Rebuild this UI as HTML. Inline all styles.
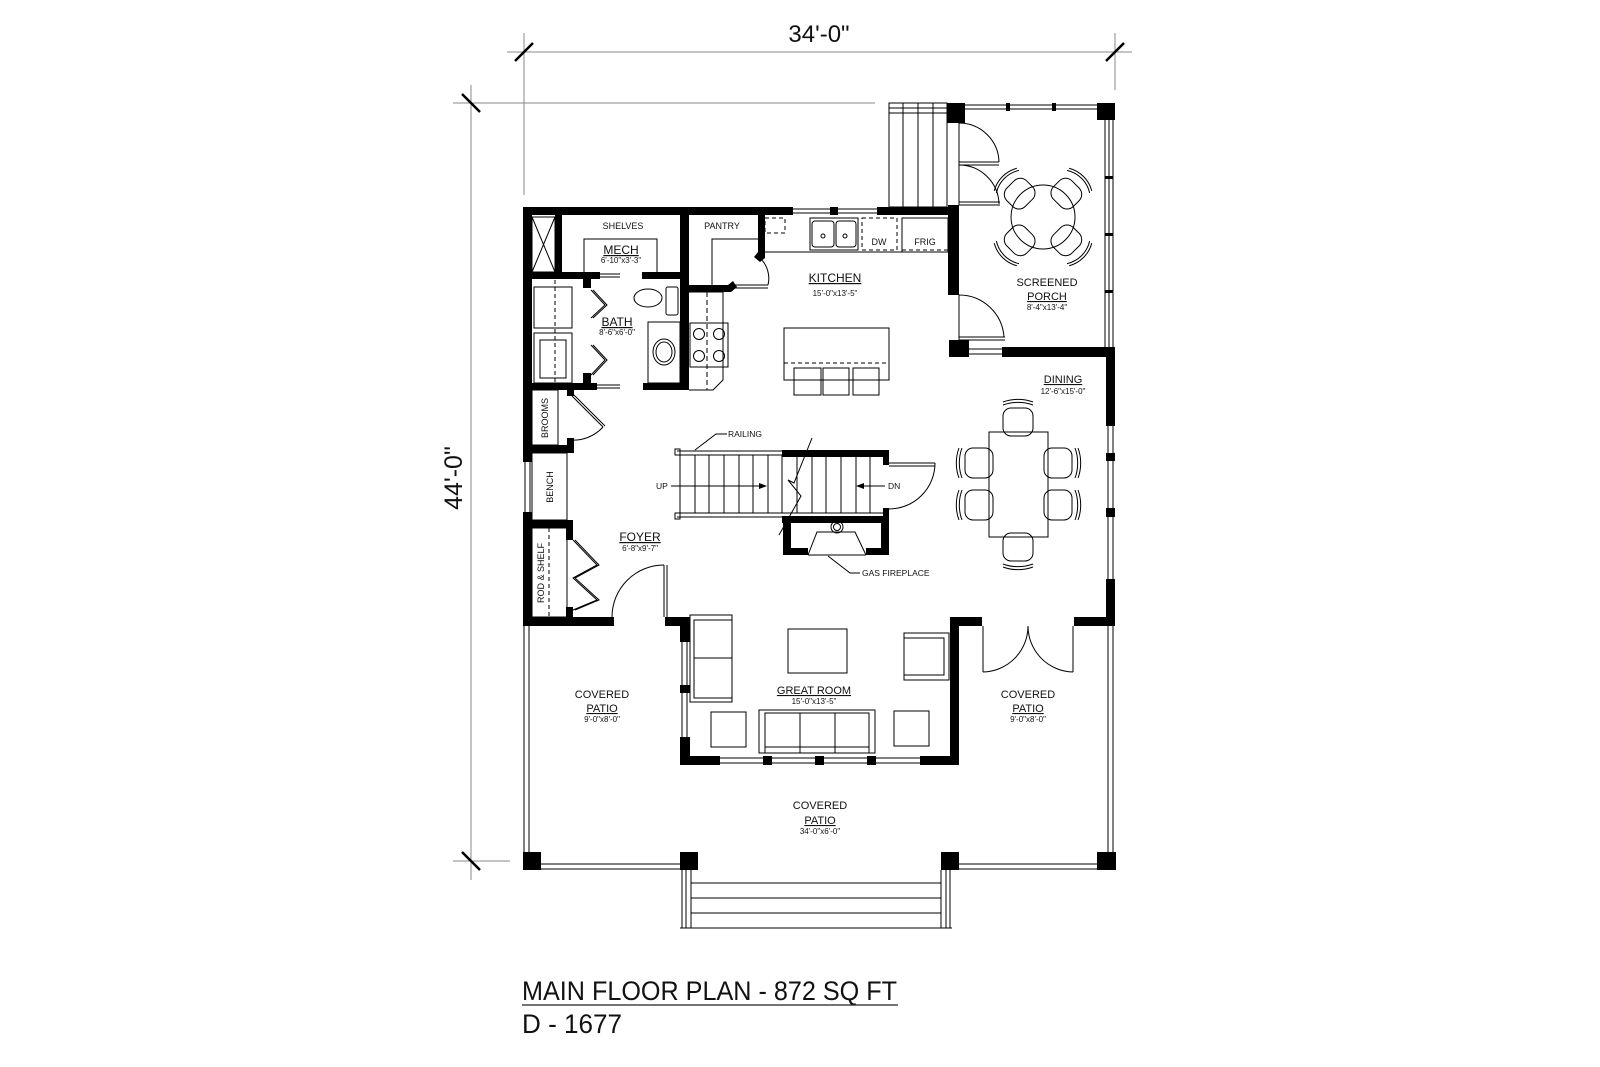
<!DOCTYPE html>
<html><head><meta charset="utf-8"><style>
html,body{margin:0;padding:0;background:#fff;}
svg{display:block;}
text{font-family:"Liberation Sans",sans-serif;fill:#111;}
</style></head><body>
<svg width="1600" height="1067" viewBox="0 0 1600 1067" xmlns="http://www.w3.org/2000/svg">
<rect width="1600" height="1067" fill="#fff"/>
<g stroke="#888" stroke-width="1" fill="none">
<line x1="507" y1="52" x2="1132" y2="52"/>
<line x1="524" y1="33" x2="524" y2="195"/>
<line x1="1115" y1="33" x2="1115" y2="90"/>
<line x1="453" y1="103" x2="875" y2="103"/>
<line x1="453" y1="861" x2="510" y2="861"/>
<line x1="471" y1="85" x2="471" y2="880"/>
</g>
<g stroke="#000" stroke-width="2.5">
<line x1="515" y1="61" x2="533" y2="43"/><line x1="1106" y1="61" x2="1124" y2="43"/>
<line x1="462" y1="94" x2="480" y2="112"/><line x1="462" y1="852" x2="480" y2="870"/>
</g>
<text x="819" y="42" font-size="24" text-anchor="middle">34'-0"</text>
<text transform="translate(462,478) rotate(-90)" font-size="25" text-anchor="middle">44'-0"</text>

<g fill="none" stroke="#000" stroke-width="1">
<line x1="793" y1="209" x2="877" y2="209"/><line x1="793" y1="213" x2="877" y2="213"/>
<line x1="525" y1="462" x2="525" y2="512"/><line x1="530" y1="462" x2="530" y2="512"/>
<line x1="682" y1="642" x2="682" y2="737"/><line x1="687" y1="642" x2="687" y2="737"/>
<line x1="690" y1="758" x2="920" y2="758"/><line x1="690" y1="763" x2="920" y2="763"/>
<line x1="1108" y1="426" x2="1108" y2="579"/><line x1="1113" y1="426" x2="1113" y2="579"/>
<line x1="969" y1="349" x2="1002" y2="349"/><line x1="969" y1="354" x2="1002" y2="354"/>
<line x1="965" y1="105" x2="1098" y2="105"/><line x1="965" y1="109" x2="1098" y2="109"/>
<line x1="1105" y1="120" x2="1105" y2="347"/><line x1="1109" y1="120" x2="1109" y2="347"/><line x1="1113" y1="120" x2="1113" y2="347"/>
<line x1="524" y1="626" x2="524" y2="852"/><line x1="529" y1="626" x2="529" y2="852"/>
<line x1="1108" y1="626" x2="1108" y2="852"/><line x1="1113" y1="626" x2="1113" y2="852"/>
<line x1="541" y1="864" x2="680" y2="864"/><line x1="541" y1="869" x2="680" y2="869"/>
<line x1="959" y1="864" x2="1097" y2="864"/><line x1="959" y1="869" x2="1097" y2="869"/>
<line x1="682" y1="870" x2="682" y2="928"/><line x1="686" y1="870" x2="686" y2="928"/><line x1="691" y1="870" x2="691" y2="928"/>
<line x1="941" y1="870" x2="941" y2="928"/><line x1="946" y1="870" x2="946" y2="928"/><line x1="950" y1="870" x2="950" y2="928"/>
<line x1="691" y1="883" x2="941" y2="883"/><line x1="691" y1="898" x2="941" y2="898"/><line x1="691" y1="913" x2="941" y2="913"/><line x1="680" y1="928" x2="952" y2="928"/>
<rect x="889" y="103" width="58" height="104"/>
<line x1="889" y1="108" x2="947" y2="108"/><line x1="889" y1="113" x2="947" y2="113"/>
<line x1="903" y1="103" x2="903" y2="207"/><line x1="918" y1="103" x2="918" y2="207"/><line x1="933" y1="103" x2="933" y2="207"/>
<rect x="532" y="217" width="23" height="55"/><line x1="532" y1="217" x2="555" y2="272"/><line x1="555" y1="217" x2="532" y2="272"/>
<polyline points="584,272 584,239 657,239 657,272"/>
<line x1="600" y1="274" x2="620" y2="274"/><line x1="600" y1="277" x2="620" y2="277"/>
<line x1="597" y1="385" x2="620" y2="385"/><line x1="597" y1="388" x2="620" y2="388"/>
<rect x="534" y="287" width="38" height="41"/><rect x="534" y="333" width="38" height="50"/><rect x="540" y="340" width="26" height="38"/>
<line x1="555" y1="280" x2="555" y2="383" stroke-dasharray="4,3"/>
<polyline points="591,290 605,305 591,318"/><polyline points="593,290 607,305 593,318"/>
<polyline points="591,345 605,360 591,375"/><polyline points="593,345 607,360 593,375"/>
<ellipse cx="648" cy="298" rx="14" ry="9"/><rect x="666" y="287" width="12" height="28" rx="2"/>
<rect x="648" y="322" width="32" height="61"/><ellipse cx="664" cy="352" rx="11" ry="13"/><ellipse cx="664" cy="352" rx="8" ry="10"/>
<polyline points="712,285 712,239 758,239"/>
<line x1="733" y1="285" x2="768" y2="285"/><line x1="733" y1="288" x2="768" y2="288"/>
<path d="M768,285 A28,28 0 0 0 760,258"/>
<rect x="765" y="218" width="20" height="15" stroke-dasharray="4,3"/>
<line x1="765" y1="252" x2="902" y2="252"/>
<rect x="810" y="218" width="48" height="32"/><rect x="812" y="221" width="22" height="26" rx="3"/><rect x="836" y="221" width="20" height="26" rx="3"/>
<circle cx="823" cy="236" r="2"/><circle cx="845" cy="236" r="2"/>
<rect x="862" y="218" width="35" height="32" stroke-dasharray="4,3"/>
<rect x="902" y="218" width="46" height="34"/><line x1="902" y1="250" x2="948" y2="250" stroke-dasharray="4,3"/>
<polyline points="689,292 723,292 723,380 713,390 689,390"/>
<line x1="707" y1="292" x2="707" y2="390" stroke-dasharray="5,3"/>
<rect x="690" y="323" width="38" height="44"/>
<circle cx="699" cy="334" r="5.5"/><circle cx="719" cy="334" r="5.5"/><circle cx="699" cy="356" r="5.5"/><circle cx="719" cy="356" r="5.5"/>
<rect x="784" y="328" width="105" height="52"/><line x1="784" y1="363" x2="889" y2="363" stroke-dasharray="4,3"/>
<rect x="794" y="368" width="27" height="27"/><rect x="823" y="368" width="26" height="27"/><rect x="853" y="368" width="26" height="27"/>
<line x1="794" y1="380" x2="821" y2="380"/><line x1="823" y1="380" x2="849" y2="380"/><line x1="853" y1="380" x2="879" y2="380"/>
<rect x="532" y="390" width="26" height="55"/>
<line x1="572" y1="396" x2="603" y2="427"/><line x1="574" y1="395" x2="605" y2="426"/><path d="M603,427 A40,40 0 0 1 570,440"/>
<rect x="532" y="453" width="35" height="67"/>
<rect x="532" y="528" width="35" height="89"/><line x1="549" y1="528" x2="549" y2="617" stroke-dasharray="4,3"/>
<polyline points="573,540 597,565 573,578 597,600 573,610"/><polyline points="575,540 599,565 575,578 599,600 575,610"/>
<line x1="664" y1="565" x2="664" y2="617"/><line x1="667" y1="565" x2="667" y2="617"/>
<path d="M664,565 A52,52 0 0 0 612,617"/>
<line x1="677" y1="451" x2="782" y2="451"/><line x1="677" y1="455" x2="782" y2="455"/>
<line x1="677" y1="513" x2="782" y2="513"/><line x1="677" y1="517" x2="782" y2="517"/>
<rect x="675" y="449" width="5" height="6"/><rect x="675" y="513" width="5" height="6"/>
<g>
<line x1="680" y1="455" x2="680" y2="513"/><line x1="695" y1="455" x2="695" y2="513"/><line x1="709" y1="455" x2="709" y2="513"/><line x1="724" y1="455" x2="724" y2="513"/><line x1="739" y1="455" x2="739" y2="513"/><line x1="753" y1="455" x2="753" y2="513"/><line x1="768" y1="455" x2="768" y2="513"/><line x1="782" y1="455" x2="782" y2="513"/><line x1="797" y1="457" x2="797" y2="513"/><line x1="812" y1="457" x2="812" y2="513"/><line x1="826" y1="457" x2="826" y2="513"/><line x1="841" y1="457" x2="841" y2="513"/><line x1="856" y1="457" x2="856" y2="513"/><line x1="870" y1="457" x2="870" y2="513"/>
</g>
<line x1="782" y1="513" x2="883" y2="513"/>
<polyline points="812,438 794,483 788,480 801,496 779,535"/>
<line x1="671" y1="486" x2="765" y2="486"/><line x1="885" y1="486" x2="860" y2="486"/>
<line x1="889" y1="463" x2="935" y2="463"/><line x1="889" y1="466" x2="935" y2="466"/>
<path d="M935,463 A46,46 0 0 1 889,509"/>
<polyline points="695,450 716,434 727,434"/>
<polyline points="808,555 817,532 855,532 866,555"/>
<circle cx="837" cy="527" r="6"/><circle cx="837" cy="527" r="3.5"/>
<line x1="808" y1="555" x2="866" y2="555"/>
<polyline points="828,556 850,573 860,573"/>
<rect x="690" y="615" width="42" height="87"/><rect x="694" y="620" width="38" height="78"/><line x1="694" y1="658" x2="732" y2="658"/>
<rect x="788" y="629" width="59" height="44"/>
<rect x="904" y="633" width="45" height="47"/><rect x="904" y="638" width="40" height="37"/>
<rect x="759" y="710" width="116" height="43"/><rect x="765" y="713" width="104" height="40"/>
<line x1="765" y1="747" x2="869" y2="747"/><line x1="800" y1="713" x2="800" y2="753"/><line x1="835" y1="713" x2="835" y2="753"/>
<rect x="711" y="712" width="35" height="35"/><rect x="894" y="711" width="35" height="35"/>
<line x1="983" y1="626" x2="983" y2="672"/><line x1="1073" y1="626" x2="1073" y2="672"/>
<path d="M983,672 A46,46 0 0 0 1028,626"/><path d="M1073,672 A46,46 0 0 1 1028,626"/>
<line x1="959" y1="123" x2="959" y2="205"/>
<line x1="959" y1="162" x2="999" y2="162"/><line x1="959" y1="165" x2="999" y2="165"/>
<path d="M959,123 A40,40 0 0 1 999,162"/>
<line x1="959" y1="205" x2="1000" y2="205"/><line x1="959" y1="202" x2="1000" y2="202"/>
<path d="M959,165 A40,40 0 0 1 999,204"/>
<line x1="959" y1="295" x2="959" y2="340"/>
<line x1="959" y1="340" x2="1005" y2="340"/><line x1="959" y1="337" x2="1005" y2="337"/>
<path d="M959,295 A45,45 0 0 1 1004,337"/>
<circle cx="1043" cy="217" r="32"/>
<g transform="translate(1043,217) rotate(-45)"><rect x="-14" y="-46" width="28" height="26" rx="9"/><path d="M-16,-50 A30,30 0 0 1 16,-50"/><path d="M-16,-53 A32,32 0 0 1 16,-53"/></g>
<g transform="translate(1043,217) rotate(45)"><rect x="-14" y="-46" width="28" height="26" rx="9"/><path d="M-16,-50 A30,30 0 0 1 16,-50"/><path d="M-16,-53 A32,32 0 0 1 16,-53"/></g>
<g transform="translate(1043,217) rotate(135)"><rect x="-14" y="-46" width="28" height="26" rx="9"/><path d="M-16,-50 A30,30 0 0 1 16,-50"/><path d="M-16,-53 A32,32 0 0 1 16,-53"/></g>
<g transform="translate(1043,217) rotate(-135)"><rect x="-14" y="-46" width="28" height="26" rx="9"/><path d="M-16,-50 A30,30 0 0 1 16,-50"/><path d="M-16,-53 A32,32 0 0 1 16,-53"/></g>
<rect x="989" y="432" width="59" height="105"/>
<g transform="translate(1018,432)"><rect x="-15" y="-24" width="30" height="28" rx="8"/><path d="M-15,-27 A30,20 0 0 1 15,-27"/><path d="M-15,-30 A30,20 0 0 1 15,-30"/></g>
<g transform="translate(1018,537) rotate(180)"><rect x="-15" y="-24" width="30" height="28" rx="8"/><path d="M-15,-27 A30,20 0 0 1 15,-27"/><path d="M-15,-30 A30,20 0 0 1 15,-30"/></g>
<g transform="translate(989,463) rotate(-90)"><rect x="-15" y="-24" width="30" height="28" rx="8"/><path d="M-15,-27 A30,20 0 0 1 15,-27"/><path d="M-15,-30 A30,20 0 0 1 15,-30"/></g>
<g transform="translate(989,505) rotate(-90)"><rect x="-15" y="-24" width="30" height="28" rx="8"/><path d="M-15,-27 A30,20 0 0 1 15,-27"/><path d="M-15,-30 A30,20 0 0 1 15,-30"/></g>
<g transform="translate(1048,463) rotate(90)"><rect x="-15" y="-24" width="30" height="28" rx="8"/><path d="M-15,-27 A30,20 0 0 1 15,-27"/><path d="M-15,-30 A30,20 0 0 1 15,-30"/></g>
<g transform="translate(1048,505) rotate(90)"><rect x="-15" y="-24" width="30" height="28" rx="8"/><path d="M-15,-27 A30,20 0 0 1 15,-27"/><path d="M-15,-30 A30,20 0 0 1 15,-30"/></g>
</g>
<polygon points="767,486 759,483 759,489" fill="#000"/><polygon points="856,486 864,483 864,489" fill="#000"/>

<g fill="#000">
<rect x="523" y="207" width="270" height="8"/><rect x="830" y="207" width="8" height="8"/><rect x="877" y="207" width="82" height="8"/>
<rect x="948" y="205" width="11" height="90"/><rect x="947" y="103" width="18" height="20"/><rect x="1097" y="103" width="18" height="17"/>
<rect x="1006" y="103" width="4" height="8"/><rect x="1052" y="103" width="4" height="8"/>
<rect x="1105" y="176" width="8" height="3"/><rect x="1105" y="233" width="8" height="3"/><rect x="1105" y="290" width="8" height="3"/>
<rect x="949" y="340" width="20" height="17"/><rect x="1002" y="347" width="113" height="10"/>
<rect x="1106" y="347" width="9" height="79"/><rect x="1106" y="453" width="9" height="8"/><rect x="1106" y="508" width="9" height="9"/><rect x="1106" y="579" width="9" height="47"/>
<rect x="1074" y="617" width="41" height="9"/>
<rect x="523" y="207" width="9" height="255"/><rect x="523" y="512" width="9" height="114"/>
<rect x="523" y="617" width="91" height="9"/><rect x="665" y="617" width="25" height="9"/>
<rect x="680" y="617" width="10" height="25"/><rect x="680" y="685" width="10" height="8"/><rect x="680" y="737" width="10" height="28"/>
<rect x="680" y="756" width="40" height="9"/><rect x="763" y="756" width="9" height="9"/><rect x="815" y="756" width="9" height="9"/><rect x="867" y="756" width="9" height="9"/><rect x="920" y="756" width="39" height="9"/>
<rect x="950" y="617" width="9" height="148"/><rect x="950" y="617" width="32" height="9"/>
<rect x="523" y="852" width="18" height="18"/><rect x="680" y="852" width="18" height="18"/><rect x="941" y="852" width="18" height="18"/><rect x="1097" y="852" width="19" height="18"/>
<rect x="555" y="215" width="7" height="57"/>
<rect x="532" y="272" width="68" height="7"/><rect x="642" y="272" width="46" height="7"/>
<rect x="680" y="215" width="9" height="175"/>
<rect x="583" y="279" width="8" height="9"/><rect x="583" y="373" width="8" height="10"/>
<rect x="532" y="383" width="65" height="7"/><rect x="643" y="383" width="46" height="7"/>
<rect x="758" y="215" width="7" height="37"/><polygon points="758,252 765,252 765,258 760,262 754,257"/>
<polygon points="689,285 728,285 733,281 737,287 731,292 689,292"/>
<rect x="567" y="388" width="7" height="8"/><rect x="567" y="438" width="7" height="15"/>
<rect x="523" y="445" width="50" height="8"/>
<rect x="523" y="520" width="50" height="8"/><rect x="566" y="528" width="7" height="12"/><rect x="566" y="607" width="7" height="10"/>
<rect x="782" y="450" width="107" height="7"/>
<rect x="883" y="450" width="6" height="15"/><rect x="883" y="508" width="6" height="15"/>
<rect x="782" y="516" width="107" height="7"/>
<rect x="783" y="516" width="8" height="39"/><rect x="881" y="516" width="8" height="39"/>
<rect x="783" y="548" width="25" height="7"/><rect x="866" y="548" width="23" height="7"/>
</g>

<g text-anchor="middle">
<text x="623" y="229" font-size="9">SHELVES</text>
<text x="722" y="229" font-size="9">PANTRY</text>
<text x="621" y="254" font-size="12" text-decoration="underline">MECH</text>
<text x="621" y="263" font-size="8">6'-10"x3'-3"</text>
<text x="617" y="326" font-size="12" text-decoration="underline">BATH</text>
<text x="617" y="335" font-size="8">8'-6"x6'-0"</text>
<text x="835" y="282" font-size="12" text-decoration="underline">KITCHEN</text>
<text x="835" y="296" font-size="8">15'-0"x13'-5"</text>
<text x="879" y="245" font-size="9">DW</text>
<text x="925" y="245" font-size="9">FRIG</text>
<text x="1047" y="286" font-size="11">SCREENED</text>
<text x="1047" y="300" font-size="11" text-decoration="underline">PORCH</text>
<text x="1047" y="310" font-size="8">8'-4"x13'-4"</text>
<text x="1063" y="383" font-size="11" text-decoration="underline">DINING</text>
<text x="1063" y="394" font-size="8">12'-6"x15'-0"</text>
<text x="640" y="541" font-size="12" text-decoration="underline">FOYER</text>
<text x="640" y="551" font-size="8">6'-8"x9'-7"</text>
<text x="814" y="694" font-size="11" text-decoration="underline">GREAT ROOM</text>
<text x="814" y="704" font-size="8">15'-0"x13'-5"</text>
<text x="602" y="698" font-size="11">COVERED</text>
<text x="602" y="712" font-size="11" text-decoration="underline">PATIO</text>
<text x="602" y="722" font-size="8">9'-0"x8'-0"</text>
<text x="1028" y="698" font-size="11">COVERED</text>
<text x="1028" y="712" font-size="11" text-decoration="underline">PATIO</text>
<text x="1028" y="722" font-size="8">9'-0"x8'-0"</text>
<text x="820" y="809" font-size="11">COVERED</text>
<text x="820" y="824" font-size="11" text-decoration="underline">PATIO</text>
<text x="820" y="834" font-size="8">34'-0"x6'-0"</text>
<text transform="translate(548,418) rotate(-90)" font-size="9">BROOMS</text>
<text transform="translate(553,487) rotate(-90)" font-size="9">BENCH</text>
<text transform="translate(544,573) rotate(-90)" font-size="9">ROD &amp; SHELF</text>
</g>
<text x="728" y="437" font-size="8.5">RAILING</text>
<text x="656" y="489" font-size="8.5">UP</text>
<text x="888" y="489" font-size="8.5">DN</text>
<text x="862" y="576" font-size="8.5">GAS FIREPLACE</text>

<text x="522" y="1000" font-size="27" textLength="375" lengthAdjust="spacingAndGlyphs" fill="#222">MAIN FLOOR PLAN - 872 SQ FT</text>
<line x1="522" y1="1005" x2="898" y2="1005" stroke="#222" stroke-width="1.2"/>
<text x="522" y="1033" font-size="27" textLength="100" lengthAdjust="spacingAndGlyphs" fill="#222">D - 1677</text>
</svg>
</body></html>
